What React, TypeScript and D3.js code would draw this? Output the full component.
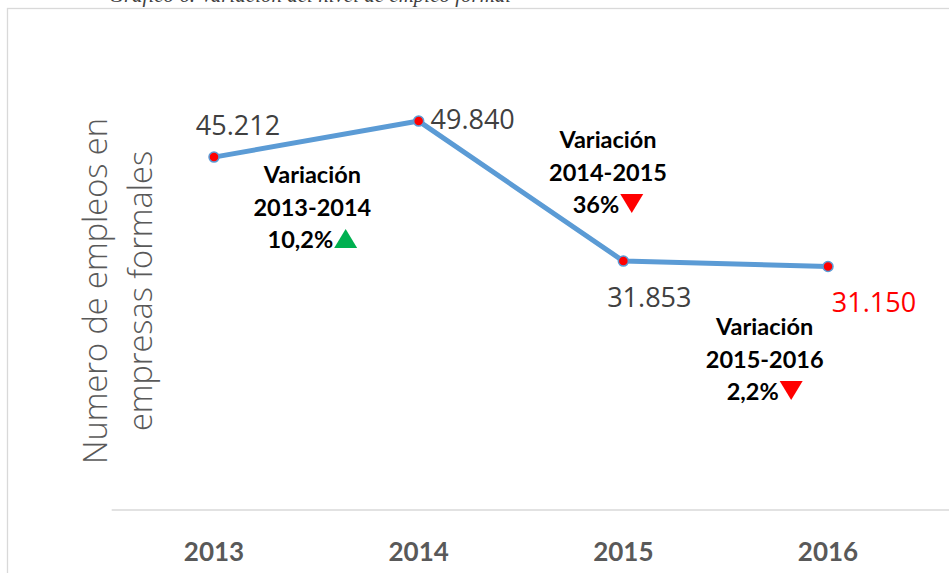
import React from "react";
import * as d3 from "d3";

const years = ["2013", "2014", "2015", "2016"];
const values = [45212, 49840, 31853, 31150];
const valueLabels = ["45.212", "49.840", "31.853", "31.150"];
const varTitles = ["Variación", "Variación", "Variación"];
const varRanges = ["2013-2014", "2014-2015", "2015-2016"];
const varPcts = ["10,2%", "36%", "2,2%"];
const varUp = [true, false, false];
const yAxisTitle = ["Numero de empleos en", "empresas formales"];
const caption = "Gráfico 6. Variación del nivel de empleo formal";

const W = 949;
const H = 573;
const ANN_FONT = "bold 23.5px Lato, 'Open Sans', sans-serif";

function measure(text: string, font: string): number {
  if (typeof document === "undefined") return text.length * 12;
  const c = document.createElement("canvas").getContext("2d");
  if (!c) return text.length * 12;
  c.font = font;
  return c.measureText(text).width;
}

export default function App() {
  const x = d3.scalePoint<string>().domain(years).range([214, 828]);
  const y = d3.scaleLinear().domain([0, 60000]).range([509, 42]);
  const step = x.step();
  const line = d3
    .line<number>()
    .x((_, i) => x(years[i]) as number)
    .y((d) => y(d));

  const labelPos = [
    { dx: 24, dy: -22, color: "#404040" },
    { dx: 54, dy: 8, color: "#404040" },
    { dx: 26, dy: 46, color: "#404040" },
    { dx: 46, dy: 45, color: "#ff0000" },
  ];
  // annotation block centers and first-line baselines
  const annX = [
    ((x("2013") as number) + (x("2014") as number)) / 2 - 4,
    ((x("2014") as number) + (x("2015") as number)) / 2 + 87,
    ((x("2015") as number) + (x("2016") as number)) / 2 + 39,
  ];
  const annY = [183, 148, 335];
  const lh = 32.5;
  const triW = 23;
  const triH = 19;

  return (
    <svg
      width={W}
      height={H}
      style={{ position: "absolute", left: 0, top: 0, background: "#fff" }}
    >
      <rect x={0} y={0} width={W} height={H} fill="#fff" />
      <text
        x={310}
        y={2}
        fontFamily="'Liberation Serif', 'DejaVu Serif', serif"
        fontStyle="italic"
        fontSize={21}
        fill="#404040"
        textAnchor="middle"
      >
        {caption}
      </text>
      <rect
        x={7.5}
        y={8.5}
        width={W + 10}
        height={H + 10}
        fill="none"
        stroke="#d9d9d9"
        strokeWidth={1.3}
      />
      <line
        x1={(x("2013") as number) - step / 2}
        x2={W}
        y1={y(0) + 1}
        y2={y(0) + 1}
        stroke="#d9d9d9"
        strokeWidth={1.3}
      />
      {years.map((yr) => (
        <text
          key={yr}
          x={x(yr)}
          y={561}
          textAnchor="middle"
          fontFamily="Lato, 'Open Sans', sans-serif"
          fontWeight="bold"
          fontSize={26}
          fill="#595959"
        >
          {yr}
        </text>
      ))}
      {yAxisTitle.map((t, i) => (
        <text
          key={t}
          transform={`translate(${107 + i * 45},${291}) rotate(-90)`}
          textAnchor="middle"
          fontFamily="'Open Sans', Lato, sans-serif"
          fontWeight={300}
          fontSize={32.5}
          fill="#595959"
        >
          {t}
        </text>
      ))}
      <path
        d={line(values) || ""}
        fill="none"
        stroke="#5b9bd5"
        strokeWidth={5}
        strokeLinejoin="round"
      />
      {values.map((v, i) => (
        <circle
          key={i}
          cx={x(years[i])}
          cy={y(v)}
          r={5}
          fill="#ff0000"
          stroke="#5b9bd5"
          strokeWidth={1.5}
        />
      ))}
      {values.map((v, i) => (
        <text
          key={"l" + i}
          x={(x(years[i]) as number) + labelPos[i].dx}
          y={y(v) + labelPos[i].dy}
          textAnchor="middle"
          fontFamily="'Open Sans', Lato, sans-serif"
          fontSize={27}
          fill={labelPos[i].color}
        >
          {valueLabels[i]}
        </text>
      ))}
      {varTitles.map((t, i) => {
        const cx = annX[i];
        const b0 = annY[i];
        const pctW = measure(varPcts[i], ANN_FONT);
        const left = cx - (pctW + 1 + triW) / 2;
        const tx = left + pctW + 1;
        const b2 = b0 + 2 * lh;
        const pts = varUp[i]
          ? [
              [tx, b2],
              [tx + triW, b2],
              [tx + triW / 2, b2 - triH],
            ]
          : [
              [tx, b2 - triH],
              [tx + triW, b2 - triH],
              [tx + triW / 2, b2],
            ];
        return (
          <g
            key={"a" + i}
            fontFamily="Lato, 'Open Sans', sans-serif"
            fontWeight="bold"
            fontSize={23.5}
            fill="#000"
          >
            <text x={cx} y={b0} textAnchor="middle">
              {t}
            </text>
            <text x={cx} y={b0 + lh} textAnchor="middle">
              {varRanges[i]}
            </text>
            <text x={left} y={b2} textAnchor="start">
              {varPcts[i]}
            </text>
            <polygon
              points={pts.map((p) => p.join(",")).join(" ")}
              fill={varUp[i] ? "#00b050" : "#ff0000"}
            />
          </g>
        );
      })}
    </svg>
  );
}
